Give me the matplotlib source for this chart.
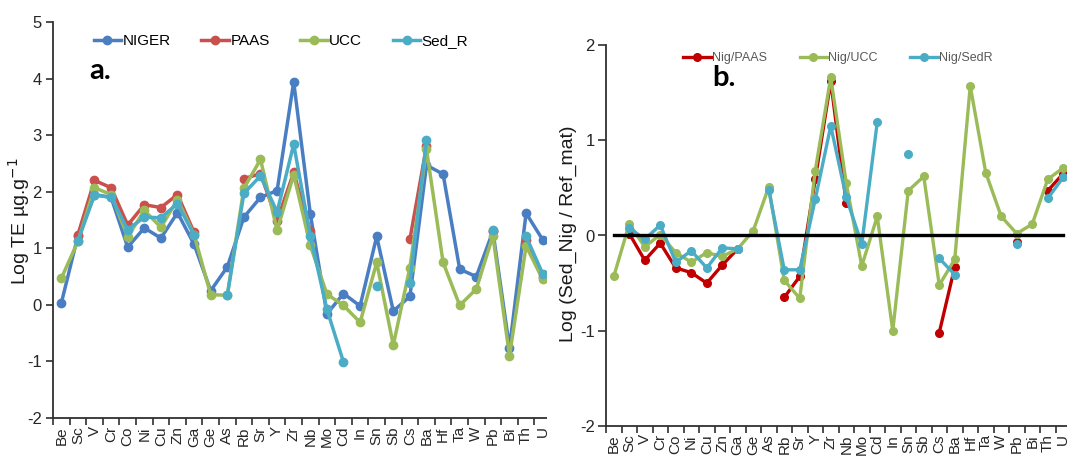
import numpy as np
import matplotlib
matplotlib.use("Agg")
import matplotlib.pyplot as plt
from matplotlib.patches import Rectangle

nan = np.nan

elements = ["Be", "Sc", "V", "Cr", "Co", "Ni", "Cu", "Zn", "Ga", "Ge", "As", "Rb", "Sr", "Y", "Zr",
            "Nb", "Mo", "Cd", "In", "Sn", "Sb", "Cs", "Ba", "Hf", "Ta", "W", "Pb", "Bi", "Th", "U"]

# Panel a: Log TE (ug/g)
niger = [0.03, 1.22, 1.95, 1.90, 1.02, 1.36, 1.18, 1.63, 1.07, 0.25, 0.67, 1.55, 1.90, 2.02, 3.94,
         1.61, -0.16, 0.20, -0.02, 1.21, -0.11, 0.15, 2.47, 2.31, 0.63, 0.50, 1.30, -0.76, 1.62, 1.15]
paas = [nan, 1.24, 2.20, 2.07, 1.41, 1.77, 1.72, 1.95, 1.28, nan, nan, 2.23, 2.32, 1.49, 2.34,
        1.30, nan, nan, nan, nan, nan, 1.16, 2.80, nan, nan, nan, 1.30, nan, 1.15, 0.50]
ucc = [0.47, 1.12, 2.07, 1.95, 1.20, 1.67, 1.37, 1.86, 1.24, 0.18, 0.17, 2.06, 2.57, 1.32, 2.30,
       1.05, 0.19, -0.01, -0.31, 0.75, -0.71, 0.66, 2.75, 0.75, -0.01, 0.28, 1.22, -0.90, 1.04, 0.45]
sed_r = [nan, 1.13, 1.94, 1.90, 1.33, 1.55, 1.54, 1.79, 1.23, nan, 0.17, 1.97, 2.28, 1.64, 2.84,
         1.22, -0.08, -1.01, nan, 0.34, nan, 0.39, 2.91, nan, nan, nan, 1.32, nan, 1.21, 0.55]

# Panel b: Log (Sed_Nig / Ref_mat)
nig_paas = [nan, 0.02, -0.26, -0.08, -0.34, -0.39, -0.50, -0.31, -0.14, nan, nan, -0.65, -0.43, 0.59, 1.62,
            0.34, nan, nan, nan, nan, nan, -1.02, -0.33, nan, nan, nan, -0.07, nan, 0.47, 0.65]
nig_ucc = [-0.43, 0.12, -0.12, 0.01, -0.18, -0.28, -0.18, -0.22, -0.14, 0.05, 0.51, -0.47, -0.66, 0.68, 1.66,
           0.55, -0.32, 0.20, -1.00, 0.47, 0.62, -0.52, -0.25, 1.57, 0.66, 0.20, 0.02, 0.12, 0.59, 0.71]
nig_sedr = [nan, 0.08, -0.04, 0.11, -0.28, -0.16, -0.34, -0.13, -0.14, nan, 0.48, -0.36, -0.36, 0.38, 1.15,
            0.40, -0.09, 1.19, nan, 0.86, nan, -0.24, -0.41, nan, nan, nan, -0.09, nan, 0.39, 0.61]
ref_line = [0.0] * len(elements)

W, H = 1067, 461
fig = plt.figure(figsize=(W / 100, H / 100), dpi=100)


def rect(x0, y0, x1, y1):
    return [x0 / W, 1 - y1 / H, (x1 - x0) / W, (y1 - y0) / H]


narrow = ["Liberation Sans Narrow", "Liberation Sans", "DejaVu Sans"]
regular = ["Liberation Sans", "DejaVu Sans"]
tick_col = "#262626"

x = np.arange(len(elements))


def style_axes(ax, ylim, yticks, tick_fs):
    ax.set_xlim(-0.5, len(elements) - 0.5)
    ax.set_ylim(*ylim)
    for s in ["top", "right"]:
        ax.spines[s].set_visible(False)
    for s in ["left", "bottom"]:
        ax.spines[s].set_linewidth(1.3)
        ax.spines[s].set_color("#303030")
    ax.set_yticks(yticks)
    ax.set_yticklabels([str(t) for t in yticks], fontfamily=narrow, fontsize=tick_fs, color=tick_col)
    ax.set_xticks(x)
    ax.set_xticklabels(elements, rotation=90, fontfamily=regular, fontsize=11, color=tick_col,
                       va="top", ha="center")
    ax.set_xticks(np.arange(-0.5, len(elements) + 0.5, 1), minor=True)
    ax.tick_params(axis="x", which="major", length=0, pad=6)
    ax.tick_params(axis="x", which="minor", length=5, width=1.2, color="#303030", direction="out")
    ax.tick_params(axis="y", which="major", length=5, width=1.2, color="#303030", direction="out", pad=3)


# ---------- panel a ----------
ax1 = fig.add_axes(rect(53, 22, 551, 418))
ax1.set_zorder(0)
lw, ms = 2.5, 6
ax1.plot(x, niger, color="#4A7EC3", lw=lw, marker="o", ms=ms, label="NIGER")
ax1.plot(x, paas, color="#C9504D", lw=lw, marker="o", ms=ms, label="PAAS")
ax1.plot(x, ucc, color="#9BBB59", lw=lw, marker="o", ms=ms, label="UCC")
ax1.plot(x, sed_r, color="#4BACC6", lw=lw, marker="o", ms=ms, label="Sed_R")
style_axes(ax1, (-2, 5), [-2, -1, 0, 1, 2, 3, 4, 5], 12)
ax1.legend(ncol=4, loc="center", bbox_to_anchor=(281 / W, 1 - 41 / H), bbox_transform=fig.transFigure,
           frameon=False, prop={"family": narrow, "size": 11}, handlelength=1.8, handletextpad=0.1,
           columnspacing=2.0, borderpad=0)
fig.text(19 / W, 1 - 221 / H, "Log TE µg.g$^{-1}$", rotation=90, ha="center", va="center",
         fontsize=14, fontfamily=regular, color="#1a1a1a")
fig.text(89 / W, 1 - 71 / H, "a.", fontsize=21, fontweight="bold", fontfamily=["Lato", "DejaVu Sans"],
         ha="left", va="center", color="black")

# white cover (right image overlaps the left one)
cover = Rectangle((547 / W, 0), 1 - 547 / W, 1, transform=fig.transFigure, facecolor="white",
                  edgecolor="none", zorder=0.5)
fig.add_artist(cover)

# ---------- panel b ----------
ax2 = fig.add_axes(rect(606, 45, 1071, 426))
ax2.set_zorder(1)
lw2, ms2 = 2.4, 5.5
ax2.plot(x, nig_paas, color="#C00000", lw=lw2, marker="o", ms=ms2, label="Nig/PAAS")
ax2.plot(x, nig_ucc, color="#9BBB59", lw=lw2, marker="o", ms=ms2, label="Nig/UCC")
ax2.plot(x, nig_sedr, color="#4BACC6", lw=lw2, marker="o", ms=ms2, label="Nig/SedR")
ax2.plot(x, ref_line, color="black", lw=2.4, zorder=5)
style_axes(ax2, (-2, 2), [-2, -1, 0, 1, 2], 12)
ax2.tick_params(axis="y", which="major", length=6, pad=2)
handles, labels = ax2.get_legend_handles_labels()
ax2.legend(handles[:3], labels[:3], ncol=3, loc="center", bbox_to_anchor=(838 / W, 1 - 58 / H),
           bbox_transform=fig.transFigure, frameon=False, prop={"family": narrow, "size": 9},
           labelcolor="#595959", handlelength=2.2, handletextpad=0.1, columnspacing=2.6, borderpad=0)
fig.text(568 / W, 1 - 234 / H, "Log (Sed_Nig / Ref_mat)", rotation=90, ha="center", va="center",
         fontsize=14, fontfamily=regular, color="#1a1a1a")
fig.text(712 / W, 1 - 78 / H, "b.", fontsize=21, fontweight="bold", fontfamily=["Lato", "DejaVu Sans"],
         ha="left", va="center", color="black", zorder=10)

fig.savefig("out.png", dpi=100)
